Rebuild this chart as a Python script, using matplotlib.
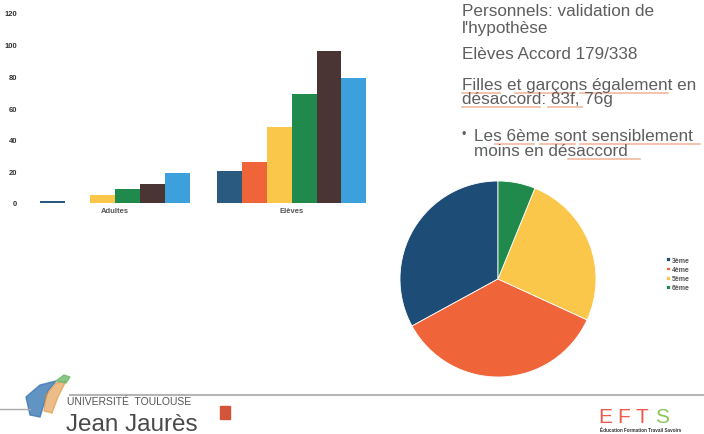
import matplotlib.pyplot as plt
import numpy as np

# bar chart data
groups = ['Adultes', 'Elèves']
series = ['3ème', '4ème', '5ème', '6ème', 's5', 's6']
adultes = [1, 0, 5, 9, 12, 19]
eleves = [20, 26, 48, 69, 96, 79]
bar_colors = ['#2a5a80', '#f0643a', '#fbc74a', '#1f8a4b', '#4a3434', '#3ba0dc']
yticks = [0, 20, 40, 60, 80, 100, 120]

# pie data
pie_labels = ['3ème', '4ème', '5ème', '6ème']
pie_values = [59, 63, 46, 11]
pie_colors = ['#1d4d77', '#f0643a', '#fbc74a', '#1f8a4b']

W, H = 704, 435
fig = plt.figure(figsize=(7.04, 4.35), dpi=100)
fig.patch.set_facecolor('white')
plt.rcParams['font.family'] = ['Liberation Sans', 'DejaVu Sans']


def fx(px):
    return px / W


def fy(py):
    return 1 - py / H


# ---- bar chart
ax = fig.add_axes([fx(30), fy(204), fx(350), (204 - 14) / H])
width = 0.141
vals = np.array([adultes, eleves])
for i in range(len(series)):
    x = np.arange(len(groups)) + (i - 2.5) * width
    ax.bar(x, vals[:, i], width=width, color=bar_colors[i])
ax.set_xlim(-0.48, 1.5)
ax.set_ylim(0, 120)
ax.set_yticks(yticks)
ax.set_yticklabels([str(t) for t in yticks], fontsize=5.5, color='#333333', fontweight='bold')
ax.set_xticks(range(len(groups)))
ax.set_xticklabels(groups, fontsize=5.5, color='#555555', fontweight='bold')
ax.tick_params(length=0, pad=3)
ax.tick_params(axis='y', pad=9)
for s in ax.spines.values():
    s.set_visible(False)

# ---- pie chart
r = 98
cx, cy = 498, 280
pax = fig.add_axes([fx(cx - r), fy(cy + r), fx(2 * r), 2 * r / H])
wedges, _ = pax.pie(pie_values, colors=pie_colors, startangle=90, counterclock=True,
                    radius=1.0, wedgeprops=dict(linewidth=0.6, edgecolor='white'))
pax.set_xlim(-1, 1)
pax.set_ylim(-1, 1)
pax.set_aspect('auto')
pax.axis('off')
fig.legend(wedges, pie_labels, loc='center left', bbox_to_anchor=(fx(660), fy(275)),
           frameon=False, handlelength=0.5, handleheight=0.5,
           handletextpad=0.3, labelspacing=0.3, labelcolor='#555555',
           prop=dict(weight='bold', size=5))

# ---- slide text
tcol = '#5e5e5e'
fs = 12.3
lines = [
    (462, 16.5, "Personnels: validation de"),
    (462, 33, "l'hypothèse"),
    (462, 59, "Elèves Accord 179/338"),
    (462, 90, "Filles et garçons également en"),
    (462, 104, "désaccord: 83f, 76g"),
    (474, 141, "Les 6ème sont sensiblement"),
    (474, 156, "moins en désaccord"),
]
for x, y, s in lines:
    fig.text(fx(x), fy(y), s, fontsize=fs, color=tcol, va='baseline', ha='left')
fig.text(fx(462), fy(138), "•", fontsize=9, color=tcol, va='baseline')

# spell-check underlines
uline = '#f3b9a0'
for x0, x1, y in [(462, 500, 94), (515, 575, 94), (580, 668, 94), (462, 540, 108),
                  (548, 582, 108), (495, 534, 145), (540, 575, 145), (580, 700, 145),
                  (568, 640, 160)]:
    fig.add_artist(plt.Line2D([fx(x0), fx(x1)], [fy(y), fy(y)], color=uline, lw=1.2))

# ---- footer
fig.add_artist(plt.Line2D([fx(70), fx(704)], [fy(396), fy(396)], color='#b5b5b5', lw=1.5))
fig.add_artist(plt.Line2D([0, fx(30)], [fy(410), fy(410)], color='#aaaaaa', lw=1))
# logo swoosh
fig.add_artist(plt.Polygon([[fx(26), fy(398)], [fx(40), fy(386)], [fx(56), fy(382)],
                            [fx(48), fy(392)], [fx(40), fy(418)], [fx(30), fy(416)]],
                           color='#3a78b5', alpha=0.8))
fig.add_artist(plt.Polygon([[fx(46), fy(396)], [fx(56), fy(384)], [fx(66), fy(382)],
                            [fx(58), fy(398)], [fx(52), fy(414)], [fx(44), fy(412)]],
                           color='#e0913a', alpha=0.6))
fig.add_artist(plt.Polygon([[fx(56), fy(382)], [fx(64), fy(376)], [fx(70), fy(378)],
                            [fx(66), fy(384)]], color='#6fb86a', alpha=0.8))
fig.text(fx(67), fy(405), "UNIVERSITÉ  TOULOUSE", fontsize=7.5, color='#555555', va='baseline')
fig.text(fx(66), fy(431), "Jean Jaurès", fontsize=17.5, color='#4a4a4a', va='baseline')
fig.add_artist(plt.Rectangle((fx(220), fy(420)), fx(10), 13 / H, color='#d2553a'))
for x, letter, col in [(598, 'E', '#ee5a4c'), (617, 'F', '#ee5a4c'),
                       (636, 'T', '#ee5a4c'), (655, 'S', '#8cc65a')]:
    fig.text(fx(x), fy(423), letter, fontsize=15, color=col, va='baseline')
fig.text(fx(600), fy(432), "Éducation Formation Travail Savoirs", fontsize=3.3,
         color='#333333', va='baseline', fontweight='bold')

fig.savefig('out.png', dpi=100)
